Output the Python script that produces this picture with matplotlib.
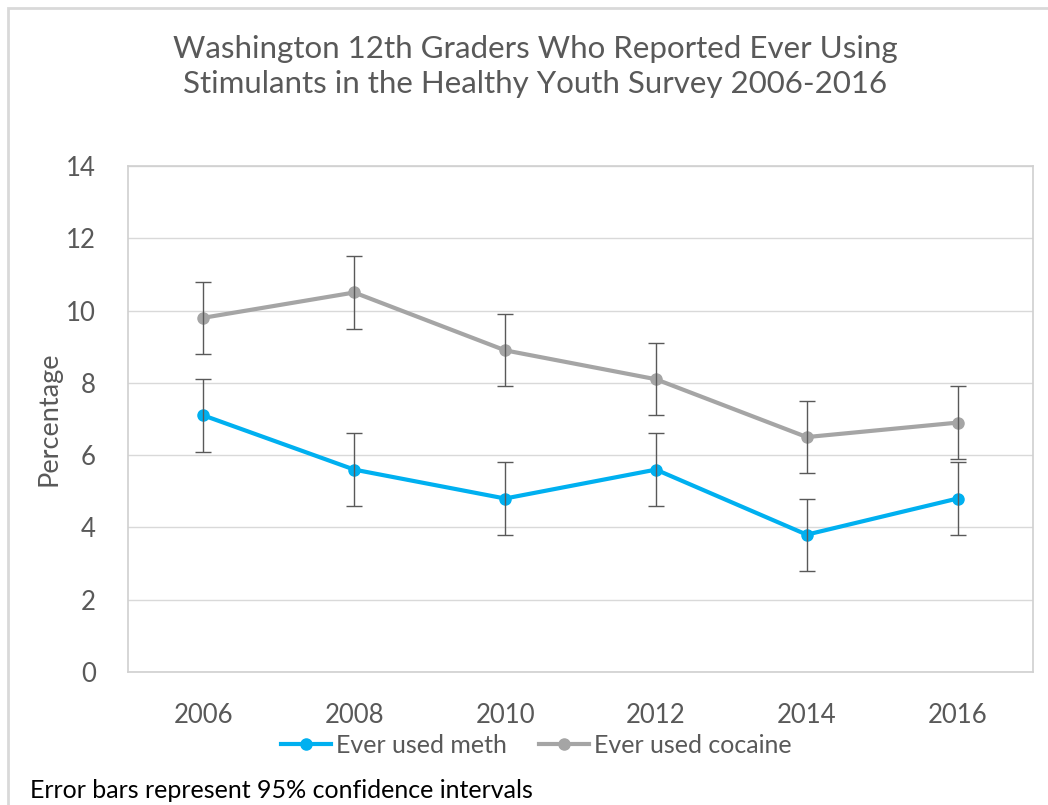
import numpy as np
import matplotlib.pyplot as plt
from matplotlib.patches import Rectangle

plt.rcParams['font.family'] = ['Lato', 'DejaVu Sans']

years = ['2006', '2008', '2010', '2012', '2014', '2016']
meth = [7.1, 5.6, 4.8, 5.6, 3.8, 4.8]
cocaine = [9.8, 10.5, 8.9, 8.1, 6.5, 6.9]
meth_err = [1.0, 1.0, 1.0, 1.0, 1.0, 1.0]
cocaine_err = [1.0, 1.0, 1.0, 1.0, 1.0, 1.0]

txt = '#595959'

fig = plt.figure(figsize=(10.48, 8.05), dpi=100)
ax = fig.add_axes([0.1221, 0.1652, 0.8636, 0.6286])

# outer chart frame (cropped on right and bottom)
fig.patches.append(Rectangle((8 / 1048, -0.1), 1.2, 1 - 8 / 805 + 0.1,
                             transform=fig.transFigure, fill=False,
                             edgecolor='#D9D9D9', linewidth=2, zorder=0))

x = np.arange(len(years))
ax.plot(x, meth, color='#00B0F0', lw=3, marker='o', ms=8, label='Ever used meth', zorder=3)
ax.plot(x, cocaine, color='#A5A5A5', lw=3, marker='o', ms=8, label='Ever used cocaine', zorder=3)
ax.errorbar(x, meth, yerr=meth_err, fmt='none', ecolor='#595959', elinewidth=1, capsize=6, capthick=1, zorder=4)
ax.errorbar(x, cocaine, yerr=cocaine_err, fmt='none', ecolor='#595959', elinewidth=1, capsize=6, capthick=1, zorder=4)

ax.set_xlim(-0.5, len(years) - 0.5)
ax.set_ylim(0, 14)
ax.set_yticks(range(0, 15, 2))
ax.set_xticks(x)
ax.set_xticklabels(years)
ax.tick_params(length=0, labelsize=18.5, colors=txt)
ax.tick_params(axis='y', pad=23)
ax.tick_params(axis='x', pad=22)
ax.grid(axis='y', color='#D9D9D9', lw=1)
ax.set_axisbelow(True)
for s in ax.spines.values():
    s.set_color('#D0D0D0')
    s.set_linewidth(1.2)

ax.set_ylabel('Percentage', fontsize=19.5, color=txt, labelpad=3.5)

fig.text(0.511, 0.917, 'Washington 12th Graders Who Reported Ever Using\nStimulants in the Healthy Youth Survey 2006-2016',
         ha='center', va='center', fontsize=22.5, color=txt, linespacing=1.3)

ax.legend(loc='center', bbox_to_anchor=(0.451, -0.145), ncol=2, frameon=False,
          fontsize=18, labelcolor=txt, handlelength=2.0, handletextpad=0.2, columnspacing=1.3)

fig.text(30 / 1048, 1 - 790 / 805, 'Error bars represent 95% confidence intervals',
         ha='left', va='center', fontsize=18, color='black')

fig.savefig('out.png', dpi=100)
